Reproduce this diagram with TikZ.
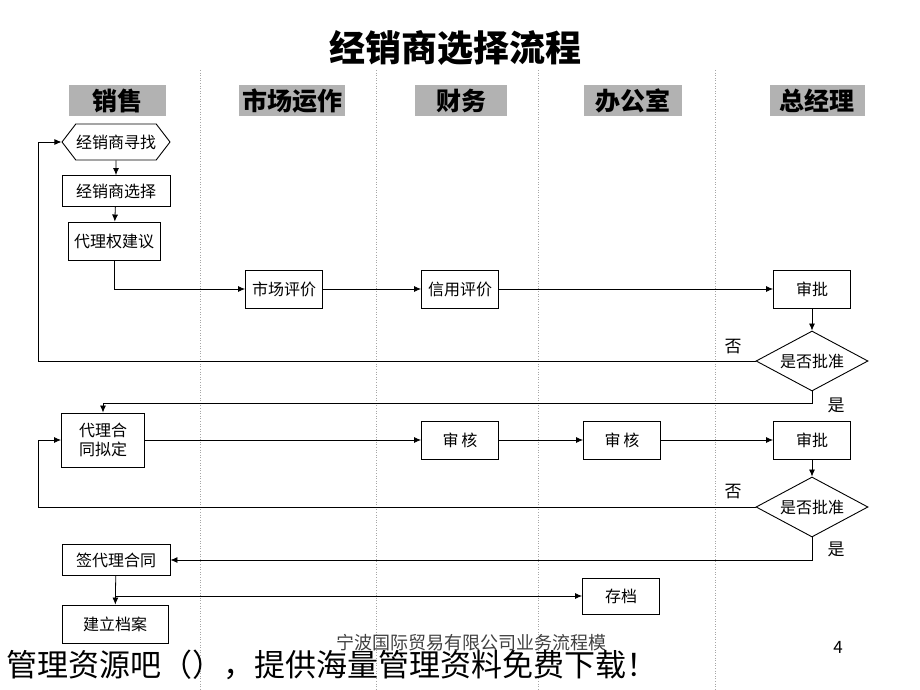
\documentclass[tikz,border=0pt]{standalone}
\usepackage{fontspec}
\setmainfont{Noto Sans CJK SC}
\usetikzlibrary{positioning, shapes.geometric, shapes.symbols, arrows.meta}

\begin{document}
\begin{tikzpicture}[x=1pt, y=-1pt,
        every node/.style={inner sep=0pt, font=\fontsize{16}{19}\selectfont},
        stepbox/.style={draw, line width=0.9pt, minimum width=77pt, minimum height=38pt},
        lanehead/.style={fill=black!30, inner xsep=3pt, minimum height=31pt, font=\bfseries\fontsize{25}{27}\selectfont},
        decision/.style={diamond, draw, line width=0.9pt, aspect=1.85, minimum width=112pt, minimum height=60pt},
        flow/.style={-{Latex[length=7pt, width=6pt]}, line width=0.8pt},
        lane/.style={black!35, dotted, line width=0.6pt},
        answer/.style={font=\fontsize{17}{19}\selectfont}]
        \useasboundingbox (0,0) rectangle (920,690);

        \node (title) at (455,48) {\bfseries\fontsize{36}{38}\selectfont 经销商选择流程};

        \foreach \x in {200, 376, 538, 715} {
                \draw[lane] (\x,70) -- (\x,690);
        }

        \node[lanehead, minimum width=97pt] (sales) at (117,101) {销售};
        \node[lanehead] (marketing) at (292,101) {市场运作};
        \node[lanehead, minimum width=92pt] (finance) at (461,101) {财务};
        \node[lanehead, minimum width=98pt] (office) at (633,101) {办公室};
        \node[lanehead, minimum width=95pt] (manager) at (817,101) {总经理};

        \node[signal, signal to=east and west, signal pointer angle=105, draw, line width=0.9pt, minimum width=108pt, minimum height=36pt] (find) at (116,142) {经销商寻找};
        \node[stepbox, minimum width=108pt, minimum height=31pt] (choose) at (116,191) {经销商选择};
        \node[stepbox, minimum width=92pt] (suggest) at (114,241) {代理权建议};
        \node[stepbox] (market) at (284,289) {市场评价};
        \node[stepbox] (credit) at (460,289) {信用评价};
        \node[stepbox] (approvea) at (812,289) {审批};
        \node[decision] (checka) at (812,361) {是否批准};

        \node[stepbox, minimum width=83pt, minimum height=54pt, align=center] (draft) at (103,440) {代理合\\同拟定};
        \node[stepbox] (audita) at (460,440) {审\,核};
        \node[stepbox] (auditb) at (622,440) {审\,核};
        \node[stepbox] (approveb) at (812,440) {审批};
        \node[decision] (checkb) at (812,507) {是否批准};

        \node[stepbox, minimum width=108pt, minimum height=31pt] (sign) at (116,560) {签代理合同};
        \node[stepbox, minimum height=36pt] (store) at (621,596) {存档};
        \node[stepbox, minimum width=106pt] (setup) at (115,624) {建立档案};

        \coordinate (loop) at (38,0);

        \draw[flow] (find) -- (choose);
        \draw[flow] (choose) -- (suggest);
        \draw[flow] (suggest.south) |- (market);
        \draw[flow] (market) -- (credit);
        \draw[flow] (credit) -- (approvea);
        \draw[flow] (approvea) -- (checka);
        \draw[flow] (checka.west) -- (checka.west -| loop) |- (find.west);
        \draw[flow] (checka.south) -- ++(0,12) -| (draft.north);

        \draw[flow] (draft) -- (audita);
        \draw[flow] (audita) -- (auditb);
        \draw[flow] (auditb) -- (approveb);
        \draw[flow] (approveb) -- (checkb);
        \draw[flow] (checkb.west) -- (checkb.west -| loop) |- (draft.west);
        \draw[flow] (checkb.south) |- (sign);
        \draw[flow] (sign) -- (setup);
        \draw[flow] (sign.south |- store) -- (store);

        \node[answer] (noa) at (733,347) {否};
        \node[answer] (yesa) at (836,405) {是};
        \node[answer] (nob) at (733,492) {否};
        \node[answer] (yesb) at (836,549) {是};

        \node[text=black!75, font=\fontsize{18}{20}\selectfont] (footer) at (471,643) {宁波国际贸易有限公司业务流程模};
        \node[font=\fontsize{17}{19}\selectfont] (page) at (838,647) {4};
        \node[anchor=west, font=\fontsize{31}{33}\selectfont] (ad) at (6,665) {管理资源吧（），提供海量管理资料免费下载！};
\end{tikzpicture}
\end{document}
